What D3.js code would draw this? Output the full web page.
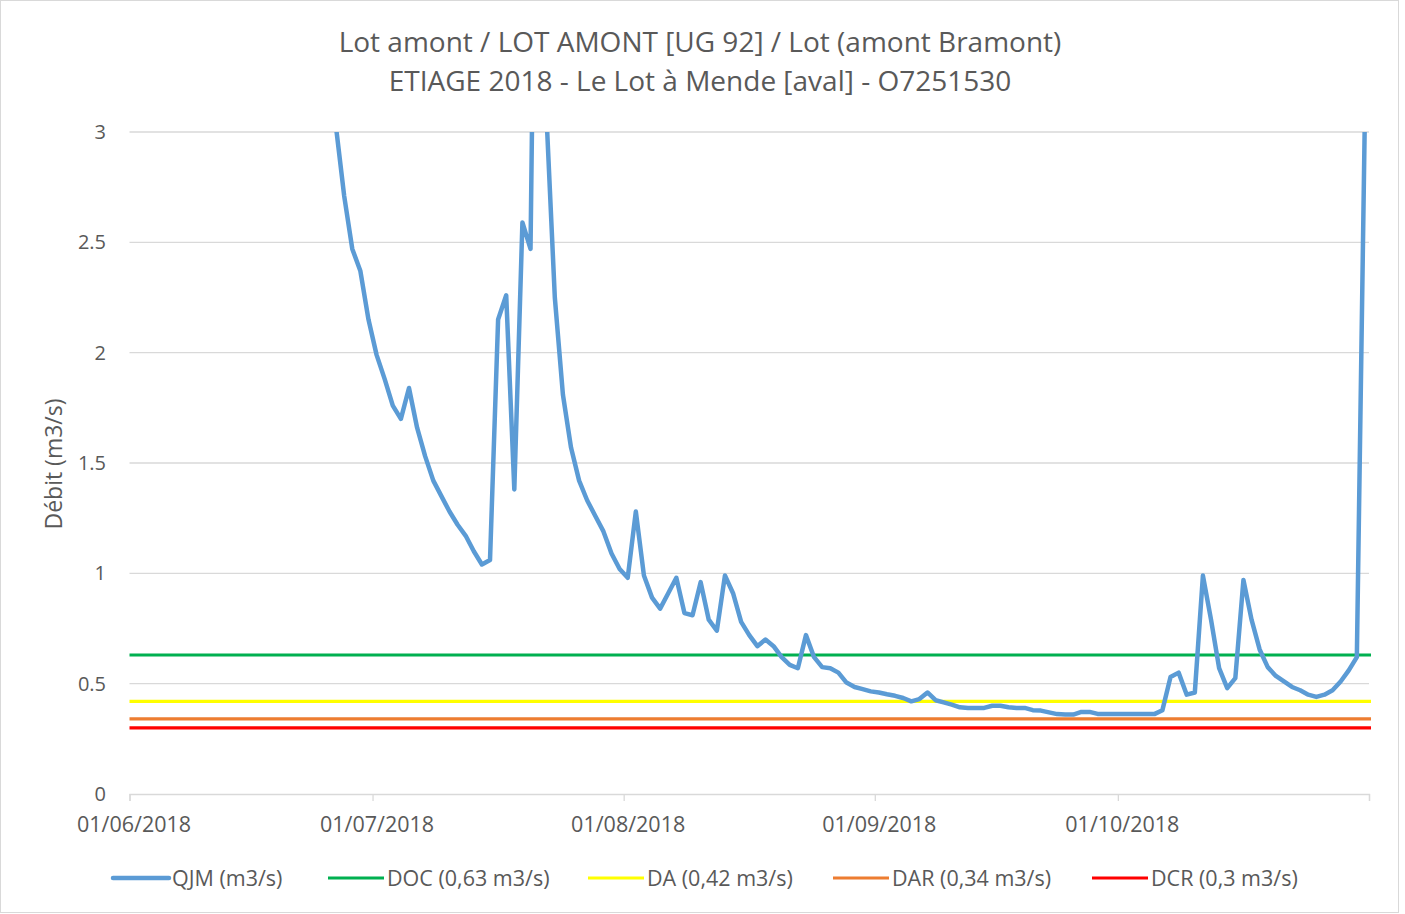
<!DOCTYPE html>
<html>
<head>
<meta charset="utf-8">
<script src="https://cdn.jsdelivr.net/npm/d3@7"></script>
<style>
  body { margin: 0; background: #fff; }
  text { font-family: "Open Sans", "Noto Sans", sans-serif; fill: #595959; }
</style>
</head>
<body>
<svg id="chart" width="1405" height="914"></svg>
<script>
// daily mean flow (QJM), one value per day starting on firstDay
const firstDay = '2018-06-25';
const qjmValues = [
  3.3, 3.02, 2.71, 2.47, 2.37, 2.15, 1.99, 1.88, 1.76, 1.70,
  1.84, 1.66, 1.53, 1.42, 1.35, 1.28, 1.22, 1.17, 1.10, 1.04,
  1.06, 2.15, 2.26, 1.38, 2.59, 2.47, 5.5, 3.05, 2.25, 1.81,
  1.57, 1.42, 1.33, 1.26, 1.19, 1.09, 1.02, 0.98, 1.28, 0.99,
  0.89, 0.84, 0.91, 0.98, 0.82, 0.81, 0.96, 0.79, 0.74, 0.99,
  0.91, 0.78, 0.72, 0.67, 0.70, 0.67, 0.62, 0.585, 0.57, 0.72,
  0.62, 0.575, 0.57, 0.55, 0.505, 0.485, 0.475, 0.465, 0.46, 0.452,
  0.445, 0.435, 0.42, 0.43, 0.46, 0.425, 0.415, 0.405, 0.393, 0.39,
  0.39, 0.39, 0.40, 0.40, 0.393, 0.39, 0.39, 0.38, 0.378, 0.37,
  0.362, 0.36, 0.36, 0.372, 0.372, 0.363, 0.362, 0.362, 0.362, 0.362,
  0.362, 0.362, 0.362, 0.38, 0.53, 0.55, 0.45, 0.46, 0.99, 0.79,
  0.57, 0.48, 0.525, 0.97, 0.79, 0.655, 0.575, 0.535, 0.51, 0.485,
  0.47, 0.45, 0.44, 0.45, 0.47, 0.51, 0.56, 0.62, 3.1
];

const thresholdNames = ['DOC (0,63 m3/s)', 'DA (0,42 m3/s)', 'DAR (0,34 m3/s)', 'DCR (0,3 m3/s)'];
const thresholdValues = [0.63, 0.42, 0.34, 0.3];
const thresholdColors = ['#00b050', '#ffff00', '#ed7d31', '#ff0000'];

const xDomain = ['2018-06-01', '2018-11-01'];
const xTicks = ['2018-06-01', '2018-07-01', '2018-08-01', '2018-09-01', '2018-10-01', '2018-11-01'];
const yTicks = [0, 0.5, 1, 1.5, 2, 2.5, 3];

const titleLines = [
  'Lot amont / LOT AMONT [UG 92] / Lot (amont Bramont)',
  'ETIAGE 2018 - Le Lot à Mende [aval] - O7251530'
];

const parse = d3.timeParse('%Y-%m-%d');
const qjmColor = '#5b9bd5';

const svg = d3.select('#chart');

svg.append('rect')
  .attr('x', 0.5).attr('y', 0.5)
  .attr('width', 1398).attr('height', 912)
  .attr('fill', '#fff').attr('stroke', '#d9d9d9');

const x = d3.scaleTime()
  .domain(xDomain.map(parse))
  .range([129.5, 1369]);

const y = d3.scaleLinear()
  .domain([0, 3])
  .range([794, 132]);

// gridlines
svg.append('g')
  .selectAll('line')
  .data(yTicks.filter(t => t > 0))
  .join('line')
  .attr('x1', 129.5).attr('x2', 1369)
  .attr('y1', d => y(d)).attr('y2', d => y(d))
  .attr('stroke', '#d9d9d9').attr('stroke-width', 1.3);

// y axis labels
const yAxis = svg.append('g')
  .attr('transform', 'translate(106,0)')
  .call(d3.axisLeft(y).tickValues(yTicks).tickSize(0).tickPadding(0).tickFormat(d3.format('')));
yAxis.select('.domain').remove();
yAxis.selectAll('text').style('font-size', '20px').attr('fill', '#595959');

// x axis
const xAxis = svg.append('g')
  .attr('transform', 'translate(0,794)')
  .call(d3.axisBottom(x)
    .tickValues(xTicks.map(parse))
    .tickSize(7)
    .tickPadding(16)
    .tickFormat((d, i) => i < xTicks.length - 1 ? d3.timeFormat('%d/%m/%Y')(d) : ''));
xAxis.select('.domain').attr('stroke', '#d9d9d9').attr('stroke-width', 1.3);
xAxis.selectAll('.tick line').attr('stroke', '#d9d9d9').attr('stroke-width', 1.3);
xAxis.selectAll('text').style('font-size', '21.5px').attr('fill', '#595959').attr('dx', 4);

// threshold lines
svg.append('g')
  .selectAll('line')
  .data(thresholdValues)
  .join('line')
  .attr('x1', 129.5).attr('x2', 1371)
  .attr('y1', d => y(d)).attr('y2', d => y(d))
  .attr('stroke', (d, i) => thresholdColors[i])
  .attr('stroke-width', 3.2);

// QJM line, each day plotted in the middle of its day slot
svg.append('clipPath').attr('id', 'plot-clip')
  .append('rect')
  .attr('x', 100).attr('y', y(3))
  .attr('width', 1300).attr('height', y(0) - y(3));

const start = parse(firstDay);
const qjm = qjmValues.map((v, i) => ({
  date: d3.timeHour.offset(d3.timeDay.offset(start, i), 12),
  value: v
}));

svg.append('path')
  .datum(qjm)
  .attr('clip-path', 'url(#plot-clip)')
  .attr('fill', 'none')
  .attr('stroke', qjmColor)
  .attr('stroke-width', 4.5)
  .attr('stroke-linejoin', 'round')
  .attr('d', d3.line().x(d => x(d.date)).y(d => y(d.value)));

// titles
svg.append('g')
  .selectAll('text')
  .data(titleLines)
  .join('text')
  .attr('x', 700)
  .attr('y', (d, i) => 52 + i * 39)
  .attr('text-anchor', 'middle')
  .style('font-size', '28px')
  .text(d => d);

svg.append('text')
  .attr('transform', 'translate(62,464) rotate(-90)')
  .attr('text-anchor', 'middle')
  .style('font-size', '23px')
  .text('Débit (m3/s)');

// legend
const legendItems = [{ name: 'QJM (m3/s)', color: qjmColor }]
  .concat(thresholdNames.map((n, i) => ({ name: n, color: thresholdColors[i] })));
const legendX = [113, 328, 588, 833, 1092];

const legend = svg.append('g')
  .selectAll('g')
  .data(legendItems)
  .join('g')
  .attr('transform', (d, i) => `translate(${legendX[i]},878)`);

legend.append('line')
  .attr('x1', 0).attr('x2', 56)
  .attr('stroke', d => d.color)
  .attr('stroke-width', d => d.color === qjmColor ? 4.5 : 3.2)
  .attr('stroke-linecap', d => d.color === qjmColor ? 'round' : 'butt');

legend.append('text')
  .attr('x', 59).attr('y', 7.5)
  .style('font-size', '21.5px')
  .text(d => d.name);
</script>
</body>
</html>
